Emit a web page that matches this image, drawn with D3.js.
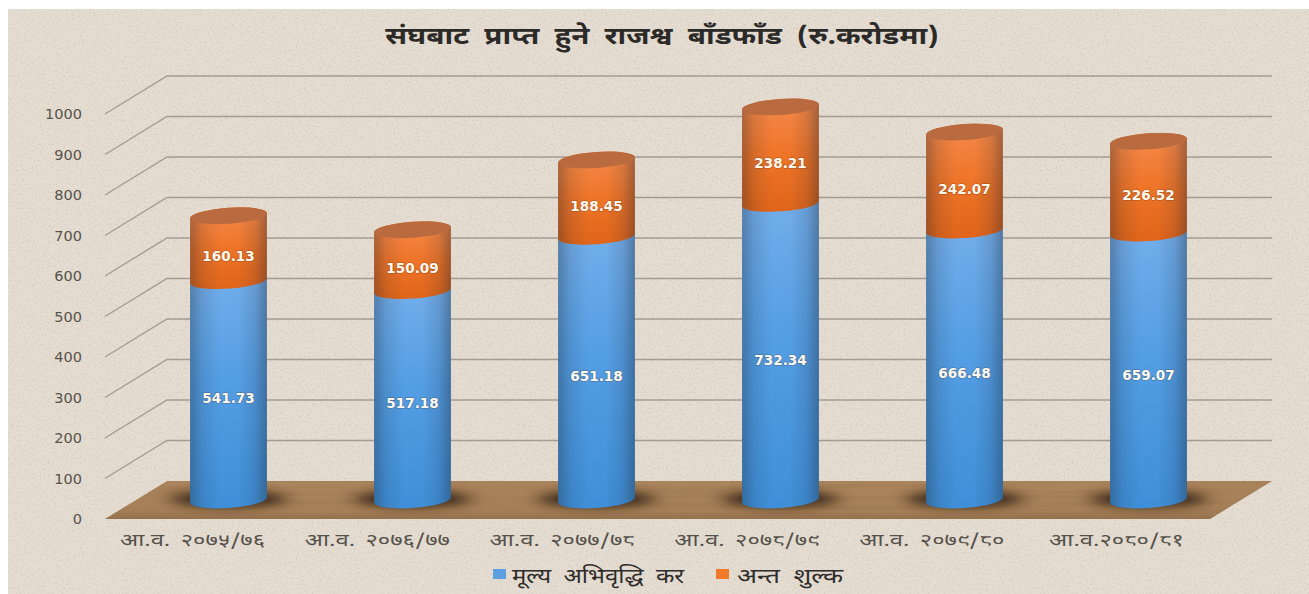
<!DOCTYPE html>
<html lang="ne">
<head>
<meta charset="utf-8">
<title>संघबाट प्राप्त हुने राजश्व बाँडफाँड</title>
<script src="https://cdn.jsdelivr.net/npm/d3@7/dist/d3.min.js"></script>
<style>
  html, body { margin: 0; padding: 0; background: #fff; overflow: hidden; }
  svg { display: block; }
  text { font-family: "Noto Sans Devanagari", "Lohit Devanagari", "Noto Sans", "DejaVu Sans", sans-serif; }
</style>
</head>
<body>
<svg id="chart" width="1309" height="594"></svg>
<script>
// Federal revenue distribution, in crore rupees
const chartTitle = "संघबाट प्राप्त हुने राजश्व बाँडफाँड (रु.करोडमा)";
const years = ["आ.व. २०७५/७६", "आ.व. २०७६/७७", "आ.व. २०७७/७८", "आ.व. २०७८/७९", "आ.व. २०७९/८०", "आ.व.२०८०/८१"];
const vatValues = [541.73, 517.18, 651.18, 732.34, 666.48, 659.07];
const exciseValues = [160.13, 150.09, 188.45, 238.21, 242.07, 226.52];
const seriesNames = ["मूल्य अभिवृद्धि कर", "अन्त शुल्क"];
const valueTicks = [0, 100, 200, 300, 400, 500, 600, 700, 800, 900, 1000];

const svg = d3.select("#chart");
const defs = svg.append("defs");

// Oblique projection of the chart box: the front plane carries the axis,
// the back plane the gridlines, and the columns stand half way between them.
const depthX = 62, depthY = 38;
const yFront = d3.scaleLinear().domain([0, 1000]).range([519, 114]);
const yBack = v => yFront(v) - depthY;
const yBar = v => yFront(v) - depthY / 2;
const frontLeft = 105, frontRight = 1210;

const xBar = d3.scalePoint().domain(years).range([228.5, 1148.5]);
const xLabel = d3.scalePoint().domain(years).range([192, 1116]);

const rx = 38.5, ry = 8, tiltDeg = -4;
const tiltRad = tiltDeg * Math.PI / 180;
const edgeX = rx * Math.cos(tiltRad), edgeY = rx * Math.sin(tiltRad);

// Paper and wood textures
const paper = defs.append("filter").attr("id", "paperGrain")
  .attr("x", 0).attr("y", 0).attr("width", 1).attr("height", 1);
paper.append("feTurbulence").attr("type", "fractalNoise").attr("baseFrequency", 0.5)
  .attr("numOctaves", 2).attr("seed", 7).attr("result", "noise");
paper.append("feColorMatrix").attr("in", "noise").attr("type", "matrix")
  .attr("values", "0 0 0 0 0.42  0 0 0 0 0.37  0 0 0 0 0.30  2.4 0 0 0 -1.12");
paper.append("feGaussianBlur").attr("stdDeviation", 0.7);

const wood = defs.append("filter").attr("id", "woodGrain")
  .attr("x", 0).attr("y", 0).attr("width", 1).attr("height", 1);
wood.append("feTurbulence").attr("type", "fractalNoise").attr("baseFrequency", "0.004 0.22")
  .attr("numOctaves", 3).attr("seed", 11).attr("result", "noise");
wood.append("feColorMatrix").attr("in", "noise").attr("type", "matrix")
  .attr("values", "0 0 0 0 0.30  0 0 0 0 0.18  0 0 0 0 0.08  1.7 0 0 0 -0.62");
wood.append("feComposite").attr("in2", "SourceGraphic").attr("operator", "in");

defs.append("filter").attr("id", "softShadow")
  .attr("x", "-40%").attr("y", "-150%").attr("width", "180%").attr("height", "400%")
  .append("feGaussianBlur").attr("stdDeviation", "9 5");

function verticalGradient(id, stops) {
  const g = defs.append("linearGradient").attr("id", id)
    .attr("x1", 0).attr("y1", 0).attr("x2", 0).attr("y2", 1);
  stops.forEach(([o, c]) => g.append("stop").attr("offset", o).attr("stop-color", c));
}
verticalGradient("blueBody", [[0, "#74aeea"], [0.45, "#549ee4"], [1, "#3f8fd8"]]);
verticalGradient("orangeBody", [[0, "#f58a4c"], [0.5, "#ee7428"], [1, "#e0651a"]]);
verticalGradient("floorFill", [[0, "#ab855d"], [0.8, "#a67f58"], [1, "#94704c"]]);

const edgeShade = defs.append("linearGradient").attr("id", "edgeShade")
  .attr("x1", 0).attr("y1", 0).attr("x2", 1).attr("y2", 0);
[[0, 0.34], [0.16, 0.12], [0.38, 0], [0.62, 0], [0.84, 0.13], [1, 0.38]].forEach(([o, a]) =>
  edgeShade.append("stop").attr("offset", o).attr("stop-color", "#1d2530").attr("stop-opacity", a));

// Background panel
const panel = { x: 8, y: 9, width: 1301, height: 585 };
svg.append("rect").attr("x", panel.x).attr("y", panel.y).attr("width", panel.width).attr("height", panel.height)
  .attr("fill", "#e5ddd2");
svg.append("rect").attr("x", panel.x).attr("y", panel.y).attr("width", panel.width).attr("height", panel.height)
  .attr("fill", "#fff").attr("filter", "url(#paperGrain)").attr("opacity", 0.3);

// Gridlines: a diagonal on the side wall, then across the back wall
const gridValues = valueTicks.filter(v => v > 0);
svg.append("g").selectAll("path").data(gridValues).join("path")
  .attr("fill", "none").attr("stroke", "#a29c92").attr("stroke-width", 1.4)
  .attr("d", v => d3.line()([
    [frontLeft, yFront(v)],
    [frontLeft + depthX, yBack(v)],
    [frontRight + depthX, yBack(v)]
  ]));

// Wooden floor
const floorPoints = [
  [frontLeft, yFront(0)],
  [frontLeft + depthX, yBack(0)],
  [frontRight + depthX, yBack(0)],
  [frontRight, yFront(0)]
];
const floorPath = d3.line().curve(d3.curveLinearClosed)(floorPoints);
svg.append("path").attr("d", floorPath).attr("fill", "url(#floorFill)");
svg.append("path").attr("d", floorPath).attr("fill", "#000").attr("filter", "url(#woodGrain)").attr("opacity", 0.55);

// Soft contact shadows under the columns
svg.append("g").selectAll("ellipse").data(years).join("ellipse")
  .attr("cx", d => xBar(d)).attr("cy", yBar(0) - 1)
  .attr("rx", 58).attr("ry", 9)
  .attr("fill", "#2e1c0e").attr("opacity", 0.82)
  .attr("filter", "url(#softShadow)");

// One cylinder segment: side walls plus the lower curve of its base
function segmentPath(cx, yTop, yBottom) {
  return `M${cx - edgeX},${yTop - edgeY}` +
    `L${cx - edgeX},${yBottom - edgeY}` +
    `A${rx},${ry} ${tiltDeg} 0 0 ${cx + edgeX},${yBottom + edgeY}` +
    `L${cx + edgeX},${yTop + edgeY}` +
    `A${rx},${ry} ${tiltDeg} 0 0 ${cx - edgeX},${yTop - edgeY}Z`;
}

const bars = svg.append("g").selectAll("g").data(years).join("g");

bars.append("path").attr("fill", "url(#blueBody)")
  .attr("d", (d, i) => segmentPath(xBar(d), yBar(vatValues[i]), yBar(0)));
bars.append("path").attr("fill", "url(#edgeShade)")
  .attr("d", (d, i) => segmentPath(xBar(d), yBar(vatValues[i]), yBar(0)));

bars.append("path").attr("fill", "url(#orangeBody)")
  .attr("d", (d, i) => segmentPath(xBar(d), yBar(vatValues[i] + exciseValues[i]), yBar(vatValues[i])));
bars.append("path").attr("fill", "url(#edgeShade)")
  .attr("d", (d, i) => segmentPath(xBar(d), yBar(vatValues[i] + exciseValues[i]), yBar(vatValues[i])));

bars.append("ellipse")
  .attr("rx", rx).attr("ry", ry).attr("fill", "#b96a3e")
  .attr("transform", (d, i) =>
    `translate(${xBar(d)},${yBar(vatValues[i] + exciseValues[i])}) rotate(${tiltDeg})`);

// Value labels inside each segment
const labelDrop = 8;
function valueLabel(selection) {
  selection.attr("text-anchor", "middle").attr("dominant-baseline", "central")
    .attr("fill", "#fdf8ee")
    .style("font-family", '"DejaVu Sans", sans-serif')
    .style("font-size", "13.6px").style("font-weight", "700")
    .style("paint-order", "stroke").attr("stroke", "rgba(70,40,20,0.3)").attr("stroke-width", 1.4);
}
bars.append("text").call(valueLabel)
  .attr("x", d => xBar(d))
  .attr("y", (d, i) => yBar(vatValues[i] / 2) + labelDrop)
  .text((d, i) => vatValues[i].toFixed(2));
bars.append("text").call(valueLabel)
  .attr("x", d => xBar(d))
  .attr("y", (d, i) => yBar(vatValues[i] + exciseValues[i] / 2) + labelDrop)
  .text((d, i) => exciseValues[i].toFixed(2));

// Value axis on the front plane
const yAxis = svg.append("g").attr("transform", "translate(82,0)")
  .call(d3.axisLeft(yFront).tickValues(valueTicks).tickSize(0).tickPadding(0).tickFormat(d3.format("d")));
yAxis.select(".domain").remove();
yAxis.selectAll("text")
  .style("font-family", '"DejaVu Sans", sans-serif')
  .style("font-size", "14.5px").attr("fill", "#56524c");

// Widen Devanagari runs horizontally to a factor of their natural width
function stretchText(selection, factor) {
  selection.each(function () {
    const natural = this.getComputedTextLength();
    d3.select(this).attr("textLength", natural * factor).attr("lengthAdjust", "spacingAndGlyphs");
  });
}

// Fiscal year axis
const xAxis = svg.append("g").attr("transform", "translate(0,540)")
  .call(d3.axisBottom(xLabel).tickSize(0).tickPadding(0));
xAxis.select(".domain").remove();
xAxis.selectAll("text")
  .attr("dy", "0.35em").attr("y", 0)
  .style("font-size", "17px").attr("fill", "#55514b")
  .style("word-spacing", "3px")
  .call(stretchText, 1.4);

// Title
svg.append("text").attr("x", 662).attr("y", 38)
  .attr("text-anchor", "middle").attr("dominant-baseline", "central")
  .attr("fill", "#2b2a28").style("font-size", "24px").style("font-weight", "700")
  .style("word-spacing", "6px")
  .text(chartTitle)
  .call(stretchText, 1.234);

// Legend
const legendColor = ["#5b9fe0", "#f07a2a"];
const legendX = [493, 716];
const legendStretch = [1.2, 1.31];
const legend = svg.append("g").selectAll("g").data(seriesNames).join("g")
  .attr("transform", (d, i) => `translate(${legendX[i]},569)`);
legend.append("rect").attr("width", 13).attr("height", 10)
  .attr("fill", (d, i) => legendColor[i]);
legend.append("text").attr("x", (d, i) => i === 0 ? 19 : 21).attr("y", 9)
  .attr("dominant-baseline", "central")
  .attr("fill", "#2e2d2b").style("font-size", "20px").style("word-spacing", "5px")
  .text(d => d)
  .each(function (d, i) { d3.select(this).call(stretchText, legendStretch[i]); });
</script>
</body>
</html>
